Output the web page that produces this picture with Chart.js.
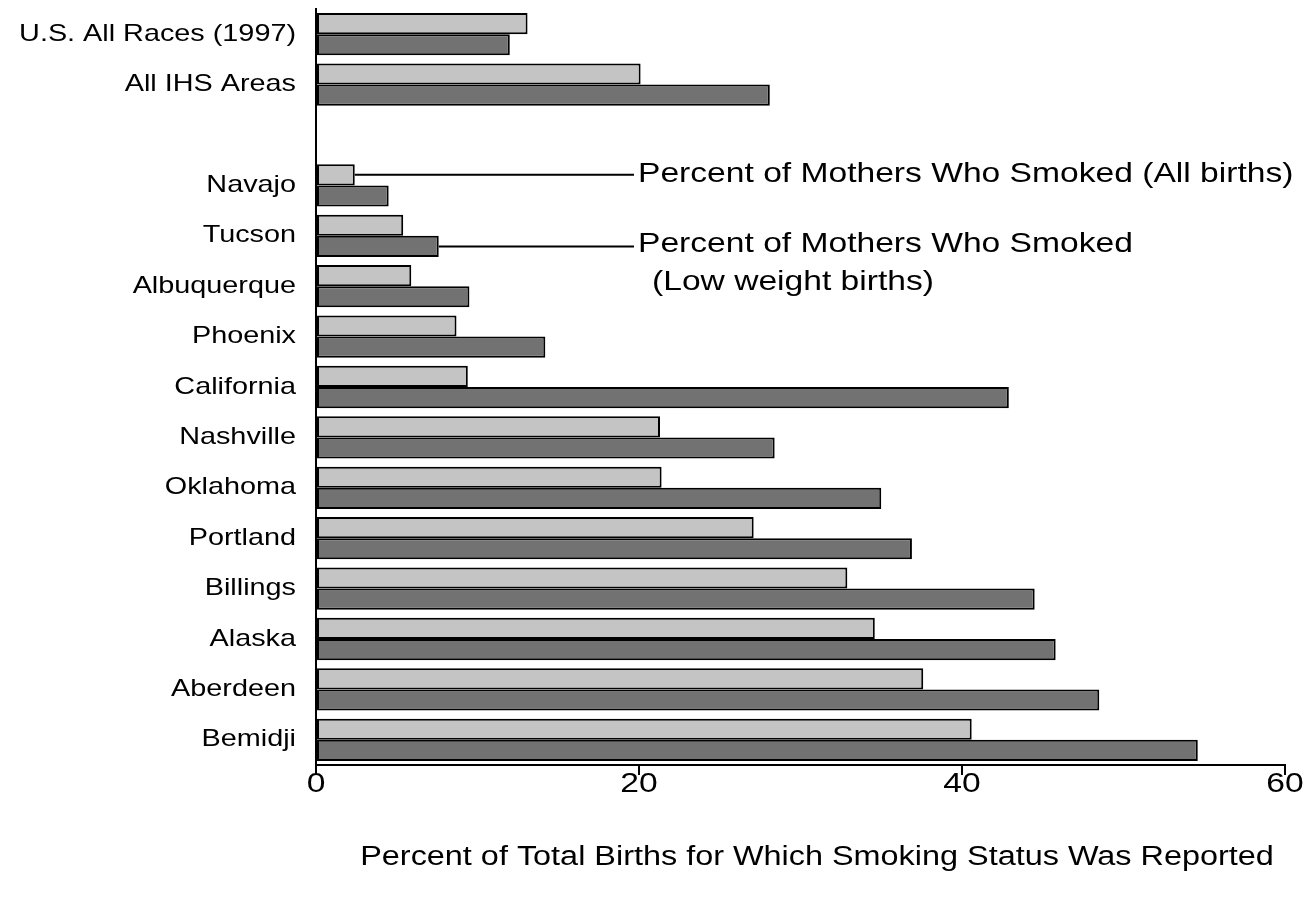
<!DOCTYPE html>
<html>
<head>
<meta charset="utf-8">
<script src="https://cdn.jsdelivr.net/npm/chart.js@4/dist/chart.umd.min.js"></script>
<style>
  html, body { margin: 0; padding: 0; background: #fff; }
  canvas { display: block; }
</style>
</head>
<body>
<canvas id="chart" width="1310" height="903"></canvas>
<script>
// categories (blank entry = gap between summary rows and areas)
const categories = [
  'U.S. All Races (1997)', 'All IHS Areas', '',
  'Navajo', 'Tucson', 'Albuquerque', 'Phoenix', 'California', 'Nashville',
  'Oklahoma', 'Portland', 'Billings', 'Alaska', 'Aberdeen', 'Bemidji'
];
// percent of mothers who smoked, all births
const allBirths = [13.1, 20.1, null, 2.4, 5.4, 5.9, 8.7, 9.4, 21.3, 21.4, 27.1, 32.9, 34.6, 37.6, 40.6];
// percent of mothers who smoked, low weight births
const lowWeight = [12.0, 28.1, null, 4.5, 7.6, 9.5, 14.2, 42.9, 28.4, 35.0, 36.9, 44.5, 45.8, 48.5, 54.6];
const xTicks = [0, 20, 40, 60];
const axisTitle = 'Percent of Total Births for Which Smoking Status Was Reported';
const noteAll = ['Percent of Mothers Who Smoked (All births)'];
const noteLow = ['Percent of Mothers Who Smoked', '(Low weight births)'];

const FONT = '"Liberation Sans", Arial, sans-serif';
const SX = 1.2; // the scanned text is wider than plain Arial

function wideText(ctx, text, x, y, size, align) {
  ctx.save();
  ctx.translate(x, y);
  ctx.scale(SX, 1);
  ctx.font = size + 'px ' + FONT;
  ctx.textAlign = align;
  ctx.textBaseline = 'middle';
  ctx.fillStyle = '#000';
  ctx.fillText(text, 0, 0);
  ctx.restore();
}

// draws labels, title and the two callouts
const textPlugin = {
  id: 'textPlugin',
  afterDraw(chart) {
    const ctx = chart.ctx;
    const xs = chart.scales.x, ys = chart.scales.y;

    categories.forEach((c, i) => {
      if (c) wideText(ctx, c, 296, ys.getPixelForValue(i), 24, 'right');
    });
    xTicks.forEach(v => wideText(ctx, String(v), xs.getPixelForValue(v), 784, 28, 'center'));
    wideText(ctx, axisTitle, 817, 858, 27, 'center');

    // callout lines from the Navajo / Tucson bars
    const barA = chart.getDatasetMeta(0).data[3];
    const barB = chart.getDatasetMeta(1).data[4];
    ctx.save();
    ctx.strokeStyle = '#000';
    ctx.lineWidth = 2;
    ctx.beginPath();
    ctx.moveTo(barA.x, barA.y); ctx.lineTo(634, barA.y);
    ctx.moveTo(barB.x, barB.y); ctx.lineTo(634, barB.y);
    ctx.stroke();
    ctx.restore();

    wideText(ctx, noteAll[0], 638, barA.y - 1, 28, 'left');
    wideText(ctx, noteLow[0], 638, barB.y - 2, 28, 'left');
    wideText(ctx, noteLow[1], 652, barB.y + 36, 28, 'left');
  }
};

new Chart(document.getElementById('chart'), {
  type: 'bar',
  data: {
    labels: categories,
    datasets: [
      {
        label: 'All births',
        data: allBirths,
        backgroundColor: '#c4c4c4',
        borderColor: '#000',
        borderWidth: 2,
        borderSkipped: false
      },
      {
        label: 'Low weight births',
        data: lowWeight,
        backgroundColor: '#727272',
        borderColor: '#000',
        borderWidth: 2,
        borderSkipped: false
      }
    ]
  },
  options: {
    indexAxis: 'y',
    responsive: false,
    animation: false,
    datasets: { bar: { categoryPercentage: 0.84, barPercentage: 1.0 } },
    layout: { padding: { top: 9, right: 25, left: 0, bottom: 0 } },
    plugins: { legend: { display: false }, tooltip: { enabled: false } },
    scales: {
      x: {
        min: 0,
        max: 60,
        afterBuildTicks: s => { s.ticks = xTicks.map(v => ({ value: v })); },
        afterFit: s => { s.height = 138; s.paddingLeft = 0; s.paddingRight = 0; },
        grid: { drawOnChartArea: false, drawTicks: true, tickLength: 10, color: '#000', lineWidth: 2 },
        border: { color: '#000', width: 2 },
        ticks: { color: 'rgba(0,0,0,0)', font: { size: 2, family: FONT } }
      },
      y: {
        afterFit: s => { s.width = 316; s.paddingTop = 0; s.paddingBottom = 0; },
        grid: { display: false },
        border: { color: '#000', width: 2 },
        ticks: { display: false }
      }
    }
  },
  plugins: [textPlugin]
});
</script>
</body>
</html>
